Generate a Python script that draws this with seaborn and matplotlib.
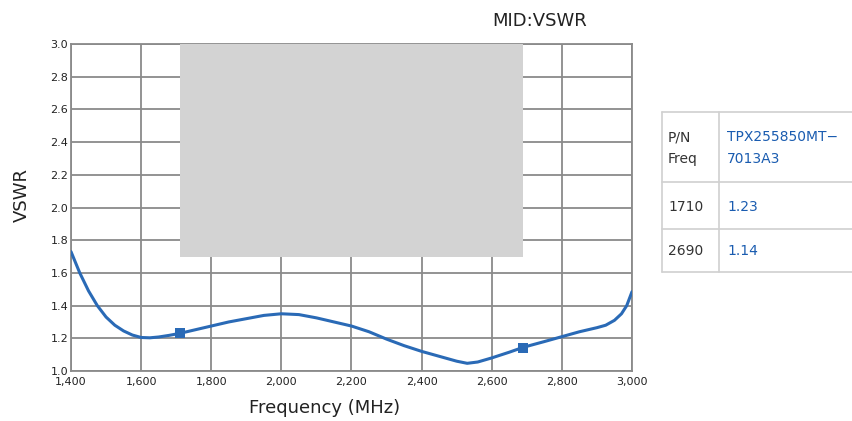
import matplotlib
matplotlib.use("Agg")
import matplotlib.pyplot as plt
import seaborn as sns
import pandas as pd
from matplotlib.patches import Rectangle
from matplotlib.lines import Line2D

# ---- data ----
freq = [1400, 1425, 1450, 1475, 1500, 1525, 1550, 1575, 1600, 1625, 1650,
        1680, 1710, 1750, 1800, 1850, 1900, 1950, 2000, 2050, 2100, 2150,
        2200, 2250, 2300, 2350, 2400, 2450, 2500, 2530, 2560, 2600, 2650,
        2690, 2750, 2800, 2850, 2900, 2925, 2950, 2970, 2985, 3000]
vswr = [1.73, 1.60, 1.49, 1.40, 1.33, 1.28, 1.245, 1.22, 1.205, 1.203, 1.208,
        1.218, 1.23, 1.25, 1.275, 1.30, 1.32, 1.34, 1.35, 1.345, 1.325, 1.30,
        1.275, 1.24, 1.195, 1.155, 1.12, 1.09, 1.06, 1.047, 1.055, 1.08, 1.115,
        1.145, 1.18, 1.21, 1.24, 1.265, 1.28, 1.31, 1.35, 1.40, 1.485]
marker_freq = [1710, 2690]
marker_vswr = [1.23, 1.14]
band = (1710, 2690)
band_vswr = (1.7, 3.0)
xticks = [1400, 1600, 1800, 2000, 2200, 2400, 2600, 2800, 3000]
xticklabels = ["1,400", "1,600", "1,800", "2,000", "2,200", "2,400", "2,600", "2,800", "3,000"]
yticks = [1.0, 1.2, 1.4, 1.6, 1.8, 2.0, 2.2, 2.4, 2.6, 2.8, 3.0]
yticklabels = ["1.0", "1.2", "1.4", "1.6", "1.8", "2.0", "2.2", "2.4", "2.6", "2.8", "3.0"]
table_header = ["P/N\nFreq", "TPX255850MT−\n7013A3"]
table_rows = [["1710", "1.23"], ["2690", "1.14"]]

sns.set_theme(style="white")
plt.rcParams['font.family'] = ['DejaVu Sans']

W, H = 853, 421
fig = plt.figure(figsize=(W / 100, H / 100), dpi=100)
ax = fig.add_axes([71 / W, 1 - 371 / H, (632 - 71) / W, (371 - 44) / H])

line_color = "#2a6ab6"
grid_color = "#8a8a8a"

ax.add_patch(Rectangle((band[0], band_vswr[0]), band[1] - band[0],
                       band_vswr[1] - band_vswr[0], facecolor="#d3d3d3",
                       edgecolor="none", zorder=3))

df = pd.DataFrame({"freq": freq, "vswr": vswr})
sns.lineplot(data=df, x="freq", y="vswr", ax=ax, color=line_color,
             linewidth=2.2, zorder=4)
dm = pd.DataFrame({"freq": marker_freq, "vswr": marker_vswr})
sns.scatterplot(data=dm, x="freq", y="vswr", ax=ax, color=line_color,
                marker="s", s=55, edgecolor=line_color, linewidth=0, zorder=5)

ax.set_xlim(1400, 3000)
ax.set_ylim(1.0, 3.0)
ax.set_xticks(xticks)
ax.set_xticklabels(xticklabels)
ax.set_yticks(yticks)
ax.set_yticklabels(yticklabels)
ax.grid(True, color=grid_color, linewidth=1.3, zorder=1)
ax.set_axisbelow(True)
for s in ax.spines.values():
    s.set_color(grid_color)
    s.set_linewidth(1.3)
ax.tick_params(axis="both", length=0, labelsize=8, colors="#222222", pad=2)
ax.tick_params(axis="x", pad=4)
ax.set_xlabel("")
ax.set_ylabel("")

fig.text(325 / W, 1 - 408 / H, "Frequency (MHz)", ha="center", va="center",
         fontsize=13, color="#222222")
fig.text(22 / W, 1 - 195 / H, "VSWR", ha="center", va="center",
         rotation=90, fontsize=13, color="#222222")
fig.text(540 / W, 1 - 21 / H, "MID:VSWR", ha="center", va="center",
         fontsize=13, color="#222222")

# ---- table ----
tc = "#d0d0d0"
def hline(y, x0=662, x1=853):
    fig.add_artist(Line2D([x0 / W, x1 / W], [1 - y / H, 1 - y / H],
                          color=tc, linewidth=1.2, transform=fig.transFigure))
def vline(x, y0=112, y1=272):
    fig.add_artist(Line2D([x / W, x / W], [1 - y0 / H, 1 - y1 / H],
                          color=tc, linewidth=1.2, transform=fig.transFigure))
for y in [112, 182, 229, 272]:
    hline(y)
vline(662)
vline(719)

blue = "#1a5cb0"
dark = "#333333"
fig.text(668 / W, 1 - 148 / H, table_header[0], ha="left", va="center",
         fontsize=10, color=dark, linespacing=1.7)
fig.text(727 / W, 1 - 148 / H, table_header[1], ha="left", va="center",
         fontsize=10, color=blue, linespacing=1.7)
for row, yc in zip(table_rows, [207, 251]):
    fig.text(668 / W, 1 - yc / H, row[0], ha="left", va="center",
             fontsize=10, color=dark)
    fig.text(727 / W, 1 - yc / H, row[1], ha="left", va="center",
             fontsize=10, color=blue)

fig.savefig("out.png", dpi=100)
